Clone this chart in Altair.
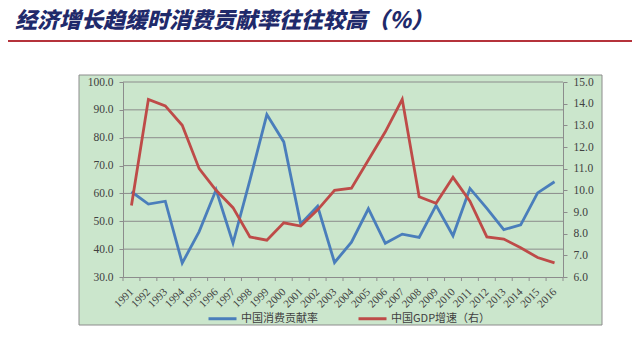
import altair as alt
import pandas as pd

# ---------------- data ----------------
years = list(range(1991, 2017))
consumption = [60.6, 56.2, 57.2, 35.0, 46.3, 61.3, 42.2, 64.8, 88.3, 78.5,
               49.0, 55.4, 35.2, 42.5, 54.5, 42.1, 45.4, 44.2, 55.7, 44.8,
               61.8, 54.6, 47.0, 48.7, 60.2, 64.2]
gdp = [9.3, 14.2, 13.9, 13.0, 11.0, 10.0, 9.2, 7.85, 7.7, 8.5,
       8.35, 9.1, 10.0, 10.1, 11.4, 12.7, 14.2, 9.7, 9.4, 10.6,
       9.5, 7.85, 7.75, 7.35, 6.9, 6.65]
series_names = ["中国消费贡献率", "中国GDP增速（右）"]
left_ticks = [30, 40, 50, 60, 70, 80, 90, 100]
right_ticks = [6, 7, 8, 9, 10, 11, 12, 13, 14, 15]
title_text = "经济增长趋缓时消费贡献率往往较高（％）"

BLUE = "#4A7EBB"
RED = "#BE4B48"
GREEN = "#CBE6CC"
GRID = "#8C8C8C"
LABEL = "#404040"
NUM_FONT = "Liberation Serif"
CJK = "Noto Sans CJK SC"

W, H = 440, 195

df = pd.DataFrame({
    "year": years * 2,
    "value": consumption + gdp,
    "series": [series_names[0]] * len(years) + [series_names[1]] * len(years),
})
grid_df = pd.DataFrame({"g": left_ticks[1:]})
bound_df = pd.DataFrame({"year": [y - 0.5 for y in years] + [years[-1] + 0.5]})
one = pd.DataFrame({"t": [title_text]})

xscale = alt.Scale(domain=[years[0] - 0.5, years[-1] + 0.5], nice=False, zero=False)
xaxis = alt.Axis(values=years, format="d", labelAngle=315, labelAlign="right",
                 labelBaseline="middle", labelPadding=13, ticks=False, grid=False,
                 domainColor=GRID, labelFont=NUM_FONT, labelFontSize=11,
                 labelColor=LABEL, title=None, zindex=1, labelOverlap=False)

color = alt.Color("series:N",
                  scale=alt.Scale(domain=series_names, range=[BLUE, RED]),
                  legend=alt.Legend(orient="none", legendX=84, legendY=221,
                                    direction="horizontal", title=None,
                                    symbolType="stroke", symbolSize=784,
                                    symbolStrokeWidth=3, labelFont=CJK,
                                    labelFontSize=11, labelColor=LABEL,
                                    labelOffset=3, columnPadding=34,
                                    padding=0, zindex=1))

box = alt.Chart(one).mark_rect(fill=GREEN, stroke=GRID, strokeWidth=1).encode(
    x=alt.value(-44), x2=alt.value(479), y=alt.value(-7), y2=alt.value(243))

title = alt.Chart(one).mark_text(
    align="left", baseline="top", font=CJK, fontSize=22, fontWeight=900,
    fontStyle="italic", color="#1F2A6B").encode(
    x=alt.value(-108), y=alt.value(-71), text="t:N")

underline = alt.Chart(one).mark_rule(color="#B5333B", strokeWidth=2).encode(
    x=alt.value(-116), x2=alt.value(520), y=alt.value(-41))

grid = alt.Chart(grid_df).mark_rule(color=GRID, strokeWidth=1).encode(
    y=alt.Y("g:Q", scale=alt.Scale(domain=[30, 100], nice=False, zero=False), axis=None),
    x=alt.value(0), x2=alt.value(W))

xticks = alt.Chart(bound_df).mark_rule(color=GRID, strokeWidth=1).encode(
    x=alt.X("year:Q", scale=xscale, axis=xaxis),
    y=alt.value(H), y2=alt.value(H + 4))

blue = alt.Chart(df).transform_filter(
    alt.datum.series == series_names[0]).mark_line(strokeWidth=2.8).encode(
    x=alt.X("year:Q", scale=xscale, axis=xaxis),
    y=alt.Y("value:Q", scale=alt.Scale(domain=[30, 100], nice=False, zero=False),
            axis=alt.Axis(orient="left", values=left_ticks, format=".1f",
                          grid=False, domainColor=GRID, tickColor=GRID,
                          tickSize=4, labelPadding=6, labelFont=NUM_FONT,
                          labelFontSize=11.5, labelColor=LABEL, title=None,
                          zindex=1)),
    color=color)

red = alt.Chart(df).transform_filter(
    alt.datum.series == series_names[1]).mark_line(strokeWidth=2.8).encode(
    x=alt.X("year:Q", scale=xscale, axis=xaxis),
    y=alt.Y("value:Q", scale=alt.Scale(domain=[6, 15], nice=False, zero=False),
            axis=alt.Axis(orient="right", values=right_ticks, format=".1f",
                          grid=False, domainColor=GRID, tickColor=GRID,
                          tickSize=4, labelPadding=6, labelFont=NUM_FONT,
                          labelFontSize=11.5, labelColor=LABEL, title=None,
                          zindex=1)),
    color=color)

chart = alt.layer(box, title, underline, grid, xticks, blue, red).resolve_scale(
    y="independent").properties(
    width=W, height=H, autosize="none",
    padding={"left": 115, "top": 74, "right": 69, "bottom": 70},
    background="white",
).configure_view(stroke=None)

chart.save("out.html", embed_options={"renderer": "svg", "actions": False})
